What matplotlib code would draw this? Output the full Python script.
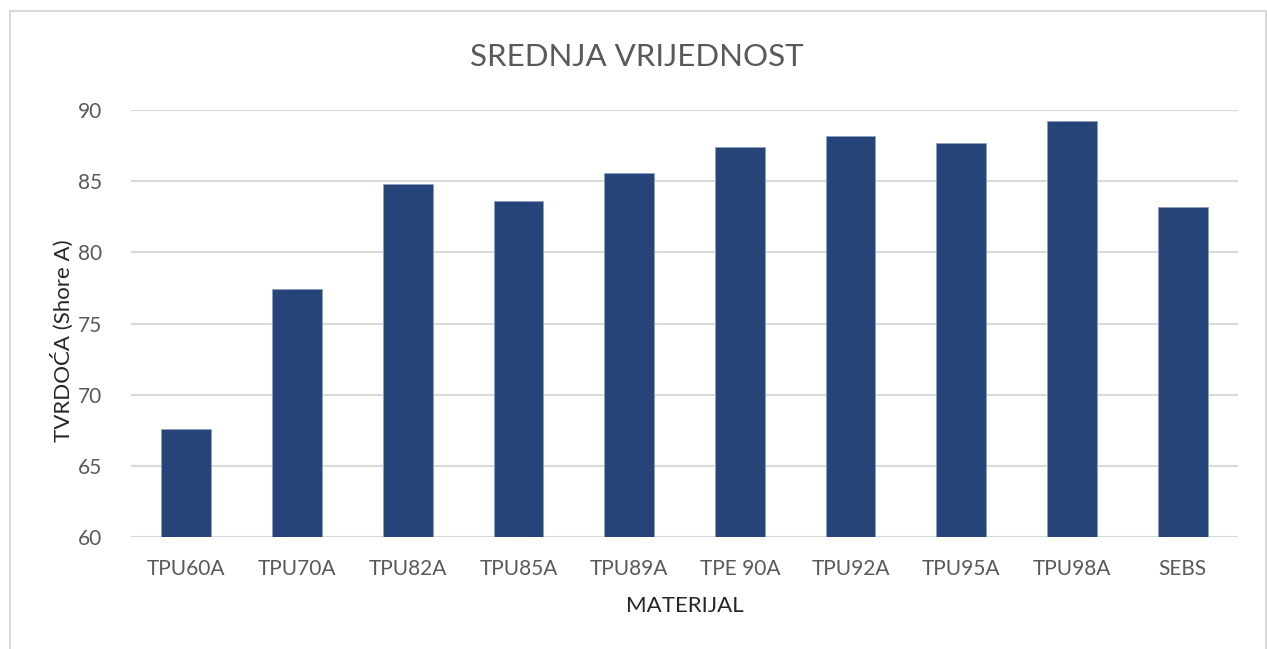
import matplotlib.pyplot as plt
from matplotlib.patches import Rectangle

plt.rcParams['font.family'] = ['Lato', 'DejaVu Sans']

materijali = ["TPU60A", "TPU70A", "TPU82A", "TPU85A", "TPU89A",
              "TPE 90A", "TPU92A", "TPU95A", "TPU98A", "SEBS"]
tvrdoca = [67.6, 77.4, 84.8, 83.6, 85.6, 87.4, 88.2, 87.7, 89.2, 83.2]
y_ticks = [60, 65, 70, 75, 80, 85, 90]

fig = plt.figure(figsize=(12.67, 6.49), dpi=100)
ax = fig.add_axes([131 / 1267, 1 - 537 / 649, (1238 - 131) / 1267, (537 - 110) / 649])

x = range(len(materijali))
ax.bar(x, tvrdoca, width=0.45, color="#264478", edgecolor="#8ea0c4", linewidth=0.6, zorder=3)

ax.set_xlim(-0.5, len(materijali) - 0.5)
ax.set_ylim(60, 90)
ax.set_yticks(y_ticks)
ax.set_xticks(list(x))
ax.set_xticklabels(materijali)
ax.grid(axis="y", color="#d9d9d9", linewidth=1.5, zorder=0)
for s in ax.spines.values():
    s.set_visible(False)
ax.tick_params(axis="both", length=0, labelsize=15, labelcolor="#595959")
ax.tick_params(axis="x", pad=16)
ax.tick_params(axis="y", pad=21)

ax.set_xlabel("MATERIJAL", fontsize=16, color="#262626", labelpad=12)
ax.set_ylabel("TVRDOĆA (Shore A)", fontsize=16, color="#262626")
ax.yaxis.set_label_coords(-0.052, 0.46)
fig.text(0.503, 1 - 57 / 649, "SREDNJA VRIJEDNOST", ha="center", va="center",
         fontsize=22.5, color="#595959")

fig.patches.append(Rectangle((10 / 1267, -0.01), 1256 / 1267, 1 - 11 / 649 + 0.01,
                             transform=fig.transFigure, fill=False,
                             edgecolor="#d9d9d9", linewidth=1.5))

fig.savefig("out.png", dpi=100)
